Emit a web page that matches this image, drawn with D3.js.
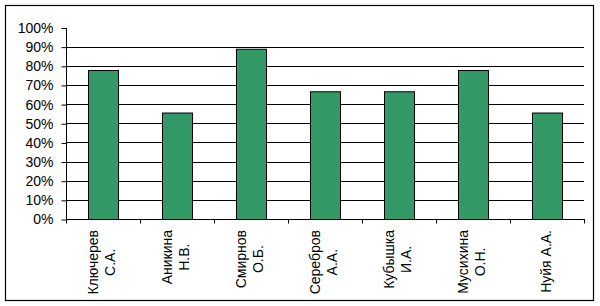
<!DOCTYPE html>
<html><head><meta charset="utf-8">
<script src="https://cdn.jsdelivr.net/npm/d3@7"></script>
<style>html,body{margin:0;padding:0;background:#fff;}svg{display:block;}</style>
</head><body>
<svg id="c" width="600" height="306"></svg>
<script>
const categories = [["Ключерев","С.А."],["Аникина","Н.В."],["Смирнов","О.Б."],["Серебров","А.А."],["Кубышка","И.А."],["Мусихина","О.Н."],["Нуйя А.А."]];
const values = [0.778, 0.556, 0.889, 0.667, 0.667, 0.778, 0.556];
const yTicks = [0,0.1,0.2,0.3,0.4,0.5,0.6,0.7,0.8,0.9,1.0];

const svg = d3.select("#c");
const font = "Liberation Sans, Arial, sans-serif";
svg.append("rect").attr("x",5.5).attr("y",5.5).attr("width",588).attr("height",295)
  .attr("fill","#fff").attr("stroke","#000").attr("stroke-width",1.2);

const L=66, R=584, T=27.5, B=219;
const x = d3.scaleBand().domain(categories.map((d,i)=>i)).range([L,R]);
const y = d3.scaleLinear().domain([0,1]).range([B,T]);

// gridlines (not at 100%)
svg.append("g").selectAll("line").data(yTicks.filter(t=>t>0&&t<1)).join("line")
  .attr("x1",L).attr("x2",R).attr("y1",d=>Math.round(y(d))+0.5).attr("y2",d=>Math.round(y(d))+0.5)
  .attr("stroke","#000").attr("stroke-width",1);

// bars
svg.append("g").selectAll("rect").data(values).join("rect")
  .attr("x",(d,i)=>x(i)+x.bandwidth()/2-15+0.5)
  .attr("width",30)
  .attr("y",d=>y(d)+0.5)
  .attr("height",d=>B-y(d))
  .attr("fill","#339966").attr("stroke","#000").attr("stroke-width",1);

// y axis
const ya = svg.append("g").attr("transform",`translate(${L+0.5},0.5)`)
  .call(d3.axisLeft(y).tickValues(yTicks).tickFormat(d=>Math.round(d*100)+"%").tickSize(5).tickPadding(8));
ya.select(".domain").attr("stroke","#000").attr("d",`M0,${T}V${B}`);
ya.selectAll(".tick line").attr("stroke","#000").attr("y1",0).attr("y2",0);
ya.selectAll("text").attr("font-family",font).attr("font-size",14).attr("fill","#000");

// x axis
const xa = svg.append("g").attr("transform",`translate(0,${B+0.5})`);
xa.append("line").attr("x1",L).attr("x2",R+1).attr("y1",0).attr("y2",0).attr("stroke","#000");
xa.selectAll("line.t").data(d3.range(categories.length+1)).join("line").attr("class","t")
  .attr("x1",i=>Math.round(L+i*x.step())+0.5).attr("x2",i=>Math.round(L+i*x.step())+0.5)
  .attr("y1",0).attr("y2",4).attr("stroke","#000");

// x labels rotated
categories.forEach((lines,i)=>{
  const cx = x(i)+x.bandwidth()/2;
  const g = svg.append("g");
  const texts = lines.map(s=>g.append("text").text(s).attr("font-family",font).attr("font-size",14)
     .attr("fill","#000").attr("text-anchor","middle"));
  const maxW = d3.max(texts, t=>t.node().getComputedTextLength());
  const cy = 230 + maxW/2;
  const lh = 17;
  const n = lines.length;
  texts.forEach((t,j)=>{
    const off = (j-(n-1)/2)*lh;
    t.attr("transform",`translate(${cx+off+3.5},${cy}) rotate(-90)`);
  });
});
</script>
</body></html>
